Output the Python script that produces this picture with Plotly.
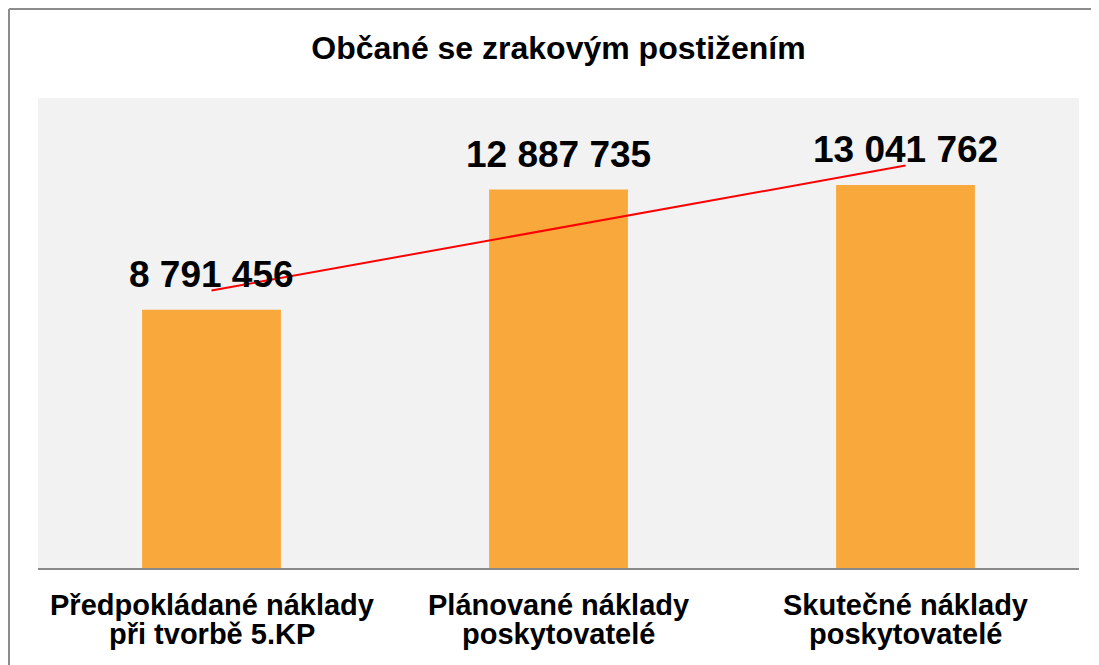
import numpy as np
import plotly.graph_objects as go

categories = ["Předpokládané náklady při tvorbě 5.KP",
              "Plánované náklady poskytovatelé",
              "Skutečné náklady poskytovatelé"]
label_line1 = ["Předpokládané náklady", "Plánované náklady", "Skutečné náklady"]
label_line2 = ["při tvorbě 5.KP", "poskytovatelé", "poskytovatelé"]
values = [8791456, 12887735, 13041762]
value_labels = ["8 791 456", "12 887 735", "13 041 762"]
title_text = "Občané se zrakovým postižením"

FONT = "Liberation Sans, Arial, Helvetica, sans-serif"
# page body has an 8px margin, so the figure is offset by 8px
W, H = 1083, 657
L, R, T, B = 30, 12, 90, 97
pw, ph = W - L - R, H - T - B

# linear trendline through bar values
idx = np.arange(len(values))
slope, intercept = np.polyfit(idx, np.array(values, dtype=float), 1)
trend = slope * idx + intercept

fig = go.Figure()
fig.add_trace(go.Bar(x=categories, y=values, marker=dict(color="#F9A93B", line=dict(width=0)),
                     hoverinfo="y", showlegend=False))
fig.add_trace(go.Scatter(x=categories, y=trend, mode="lines",
                         line=dict(color="#FF0000", width=2), showlegend=False, hoverinfo="skip"))

annotations = []
for c, v, t in zip(categories, values, value_labels):
    annotations.append(dict(x=c, y=v, xref="x", yref="y", text="<b>%s</b>" % t, showarrow=False,
                            yanchor="middle", yshift=35,
                            font=dict(family=FONT, size=37, color="#000000")))
for c, l1, l2 in zip(categories, label_line1, label_line2):
    annotations.append(dict(x=c, y=0, xref="x", yref="paper", text="<b>%s</b>" % l1, showarrow=False,
                            yanchor="middle", yshift=-37,
                            font=dict(family=FONT, size=29, color="#000000")))
    annotations.append(dict(x=c, y=0, xref="x", yref="paper", text="<b>%s</b>" % l2, showarrow=False,
                            yanchor="middle", yshift=-66,
                            font=dict(family=FONT, size=29, color="#000000")))

# outer frame (chart area border) along top and left edges
fx0 = (1 - L) / pw
fy1 = 1 + (T - 1) / ph
shapes = [
    dict(type="line", xref="paper", yref="paper", x0=fx0, x1=1 + R / pw + 0.01, y0=fy1, y1=fy1,
         line=dict(color="#8C8C8C", width=2)),
    dict(type="line", xref="paper", yref="paper", x0=fx0, x1=fx0, y0=fy1, y1=-B / ph - 0.01,
         line=dict(color="#8C8C8C", width=2)),
]

fig.update_layout(
    width=W, height=H,
    margin=dict(l=L, r=R, t=T, b=B),
    paper_bgcolor="#FFFFFF",
    plot_bgcolor="#F2F2F2",
    bargap=0.6,
    title=dict(text="<b>%s</b>" % title_text, x=(L + pw / 2) / W, xanchor="center",
               y=1 - 40 / H, yanchor="middle", yref="container",
               font=dict(family=FONT, size=32, color="#000000")),
    xaxis=dict(showticklabels=False, showline=True, linecolor="#898989", linewidth=2,
               showgrid=False, zeroline=False, ticks=""),
    yaxis=dict(range=[0, 16000000], visible=False, showgrid=False, zeroline=False),
    annotations=annotations,
    shapes=shapes,
)

fig.write_html("out.html")
